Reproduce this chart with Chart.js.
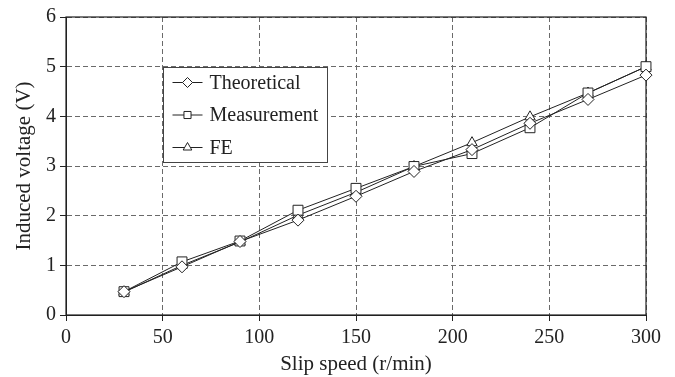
<!DOCTYPE html>
<html><head><meta charset="utf-8">
<script src="https://cdn.jsdelivr.net/npm/chart.js@4/dist/chart.umd.min.js"></script>
<style>html,body{margin:0;padding:0;background:#fff}</style>
</head><body>
<canvas id="c" width="675" height="377" style="width:675px;height:377px;display:block"></canvas>
<script>
const slipSpeed = [30, 60, 90, 120, 150, 180, 210, 240, 270, 300];
const theoretical = [0.47, 0.97, 1.48, 1.91, 2.39, 2.89, 3.33, 3.86, 4.34, 4.83];
const measurement = [0.47, 1.07, 1.49, 2.11, 2.55, 2.99, 3.25, 3.77, 4.47, 5.00];
const fe = [0.46, 1.00, 1.47, 2.01, 2.47, 2.99, 3.47, 3.99, 4.47, 5.00];
const seriesLabels = ['Theoretical', 'Measurement', 'FE'];
const xTickValues = [0, 50, 100, 150, 200, 250, 300];
const yTickValues = [0, 1, 2, 3, 4, 5, 6];
const xTitle = 'Slip speed (r/min)';
const yTitle = 'Induced voltage (V)';

const SERIF = "'Liberation Serif', 'Times New Roman', serif";
const INK = '#222';

function series(label, ys, style, r) {
  return {
    label: label,
    data: slipSpeed.map((x, i) => ({x: x, y: ys[i]})),
    pointStyle: style,
    pointRadius: r,
    pointBackgroundColor: '#fff',
    pointBorderColor: INK,
    pointBorderWidth: 1,
    borderColor: INK,
    borderWidth: 1,
    backgroundColor: '#fff',
    fill: false,
    tension: 0,
    clip: false
  };
}

const frame = {
  id: 'frame',
  beforeDatasetsDraw(chart) {
    const {ctx, chartArea: a} = chart;
    ctx.save();
    ctx.strokeStyle = INK;
    ctx.lineWidth = 1.2;
    ctx.strokeRect(a.left, a.top, a.right - a.left, a.bottom - a.top);
    ctx.restore();
  }
};

const boxLegend = {
  id: 'boxLegend',
  afterDatasetsDraw(chart) {
    const {ctx} = chart;
    const xs = chart.scales.x, ys = chart.scales.y;
    const x0 = Math.round(xs.getPixelForValue(50)) + 0.5;
    const y0 = Math.round(ys.getPixelForValue(5)) + 0.5;
    const w = 164, h = 95;
    ctx.save();
    ctx.fillStyle = '#fff';
    ctx.fillRect(x0, y0, w, h);
    ctx.strokeStyle = '#444';
    ctx.lineWidth = 1;
    ctx.strokeRect(x0, y0, w, h);
    chart.data.datasets.forEach((ds, i) => {
      const cy = y0 + 15 + i * 32.5;
      ctx.beginPath();
      ctx.strokeStyle = INK;
      ctx.lineWidth = 1;
      ctx.moveTo(x0 + 9, cy);
      ctx.lineTo(x0 + 39, cy);
      ctx.stroke();
      ctx.fillStyle = '#fff';
      ctx.strokeStyle = INK;
      Chart.helpers.drawPoint(ctx, {pointStyle: ds.pointStyle, radius: 5, rotation: 0, borderWidth: 1}, x0 + 24, cy);
      ctx.fillStyle = INK;
      ctx.font = '20px ' + SERIF;
      ctx.textBaseline = 'middle';
      ctx.textAlign = 'left';
      ctx.fillText(ds.label, x0 + 46, cy + 1);
    });
    ctx.restore();
  }
};

const gridOpts = {color: '#6a6a6a', lineWidth: 1, tickColor: INK, tickLength: 6, tickWidth: 1};
const borderOpts = {display: true, color: INK, width: 1, dash: [5, 3]};

new Chart(document.getElementById('c'), {
  type: 'line',
  data: {
    datasets: [
      series(seriesLabels[0], theoretical, 'rectRot', 6),
      series(seriesLabels[1], measurement, 'rect', 7),
      series(seriesLabels[2], fe, 'triangle', 6)
    ]
  },
  options: {
    responsive: false,
    animation: false,
    devicePixelRatio: 1,
    layout: {padding: {top: 17, right: 29, left: 0, bottom: 0}},
    plugins: {legend: {display: false}, tooltip: {enabled: false}},
    scales: {
      x: {
        type: 'linear', min: xTickValues[0], max: xTickValues[xTickValues.length - 1],
        afterBuildTicks(s) { s.ticks = xTickValues.map(v => ({value: v})); },
        ticks: {color: INK, font: {family: SERIF, size: 20}, padding: 5, maxRotation: 0, autoSkip: false},
        grid: gridOpts,
        border: borderOpts,
        title: {display: true, text: xTitle, color: INK, font: {family: SERIF, size: 21}, padding: {top: 0, bottom: 0}},
        afterFit(s) { s.height = 62; }
      },
      y: {
        type: 'linear', min: yTickValues[0], max: yTickValues[yTickValues.length - 1],
        afterBuildTicks(s) { s.ticks = yTickValues.map(v => ({value: v})); },
        ticks: {color: INK, font: {family: SERIF, size: 20}, padding: 4},
        grid: gridOpts,
        border: borderOpts,
        title: {display: true, text: yTitle, color: INK, font: {family: SERIF, size: 21}, padding: {top: 12, bottom: 0}},
        afterFit(s) { s.width = 66; }
      }
    }
  },
  plugins: [frame, boxLegend]
});
</script>
</body></html>
